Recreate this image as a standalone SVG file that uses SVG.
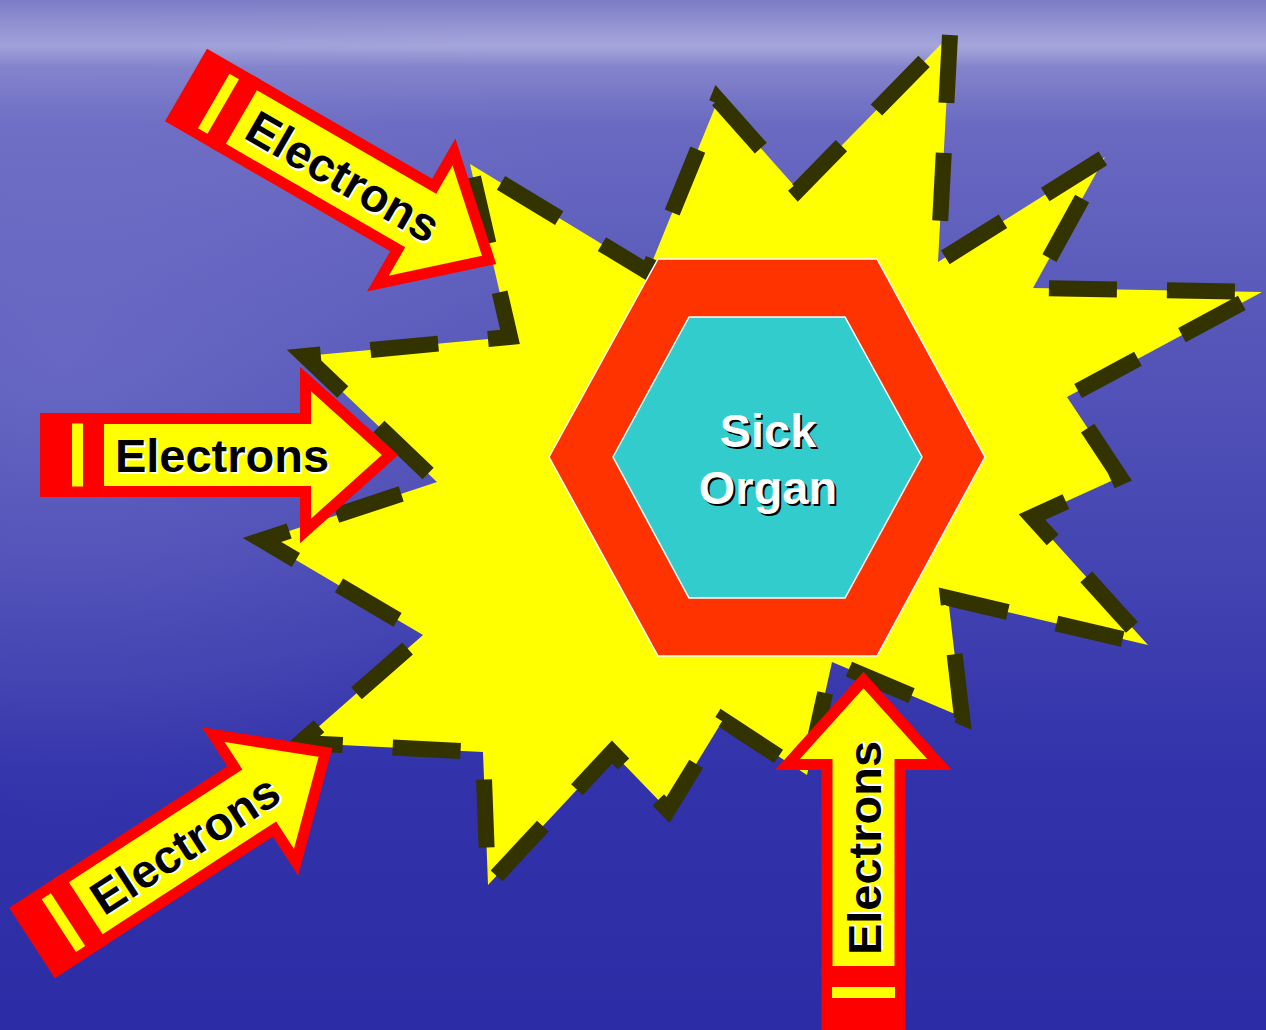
<svg xmlns="http://www.w3.org/2000/svg" xmlns:xlink="http://www.w3.org/1999/xlink" width="1266" height="1030" viewBox="0 0 1266 1030">
<defs>
<linearGradient id="bg" x1="0" y1="0" x2="0" y2="1">
<stop offset="0" stop-color="#7c7cc6"/>
<stop offset="0.025" stop-color="#9494d2"/>
<stop offset="0.045" stop-color="#a6a6dc"/>
<stop offset="0.065" stop-color="#8484cc"/>
<stop offset="0.12" stop-color="#6a6ac2"/>
<stop offset="0.3" stop-color="#5858ba"/>
<stop offset="0.55" stop-color="#4444b2"/>
<stop offset="0.75" stop-color="#3232aa"/>
<stop offset="1" stop-color="#2c2ca6"/>
</linearGradient>
<radialGradient id="glow" cx="0.05" cy="0.35" r="0.45">
<stop offset="0" stop-color="#8080d0" stop-opacity="0.45"/>
<stop offset="1" stop-color="#8080d0" stop-opacity="0"/>
</radialGradient>
<g id="arrowShape">
<rect x="0" y="-42" width="62" height="84" fill="#ff0000"/>
<rect x="32" y="-31.5" width="11" height="63" fill="#ffff00"/>
<polygon points="58.5,-36.5 265.5,-36.5 265.5,-76 350,0 265.5,76 265.5,36.5 58.5,36.5" fill="#ffff00" stroke="#ff0000" stroke-width="11" stroke-linejoin="miter" stroke-miterlimit="6"/>
</g>
<style>
.lbl{font-family:"Liberation Sans",Arial,sans-serif;font-weight:bold;font-size:47px;text-anchor:middle}
.star{fill:#ffff00;stroke:#333300;stroke-width:16;stroke-dasharray:68 50;stroke-linejoin:miter;stroke-miterlimit:5}
</style>
</defs>
<rect width="1266" height="1030" fill="url(#bg)"/>
<rect width="1266" height="1030" fill="url(#glow)"/>
<g id="star">
<polygon class="star" points="950,35 938,262 1105,157 1033,288 1262,292 1067,397 1120,477 1032,517 1148,645 948,598 962,717 832,662 807,775 723,720 668,810 612,752 488,885 483,752 300,743 423,635 262,540 437,482 305,356 510,337 470,164 648,272 718,100 798,190"/>
</g>
<g id="sick-organ">
<polygon points="658,259 877,259 985,457 877,656 658,656 549,457" fill="#ff3300" stroke="#ffffff" stroke-width="1.5"/>
<polygon points="689,317 845,317 922,457 845,598 689,598 613,457" fill="#33cccc" stroke="#ffffff" stroke-width="1.5"/>
<text class="lbl" x="770" y="449" fill="#000000">Sick</text>
<text class="lbl" x="770" y="506" fill="#000000">Organ</text>
<text class="lbl" x="768" y="447" fill="#ffffff">Sick</text>
<text class="lbl" x="768" y="504" fill="#ffffff">Organ</text>
</g>
<g id="connectors">
<g id="arrow-top-left" transform="translate(186,85) rotate(30)">
<use xlink:href="#arrowShape"/>
<text class="lbl" x="184" y="19" fill="#ffffff">Electrons</text>
<text class="lbl" x="182" y="17" fill="#000000">Electrons</text>
</g>
<g id="arrow-left" transform="translate(40,455)">
<use xlink:href="#arrowShape"/>
<text class="lbl" x="184" y="19" fill="#ffffff">Electrons</text>
<text class="lbl" x="182" y="17" fill="#000000">Electrons</text>
</g>
<g id="arrow-bottom-left" transform="translate(32,943) rotate(-33)">
<use xlink:href="#arrowShape"/>
<text class="lbl" x="184" y="19" fill="#ffffff">Electrons</text>
<text class="lbl" x="182" y="17" fill="#000000">Electrons</text>
</g>
<g id="arrow-bottom" transform="translate(863.5,1030) rotate(-90)">
<use xlink:href="#arrowShape"/>
<text class="lbl" x="184" y="19" fill="#ffffff">Electrons</text>
<text class="lbl" x="182" y="17" fill="#000000">Electrons</text>
</g>
</g>
</svg>
